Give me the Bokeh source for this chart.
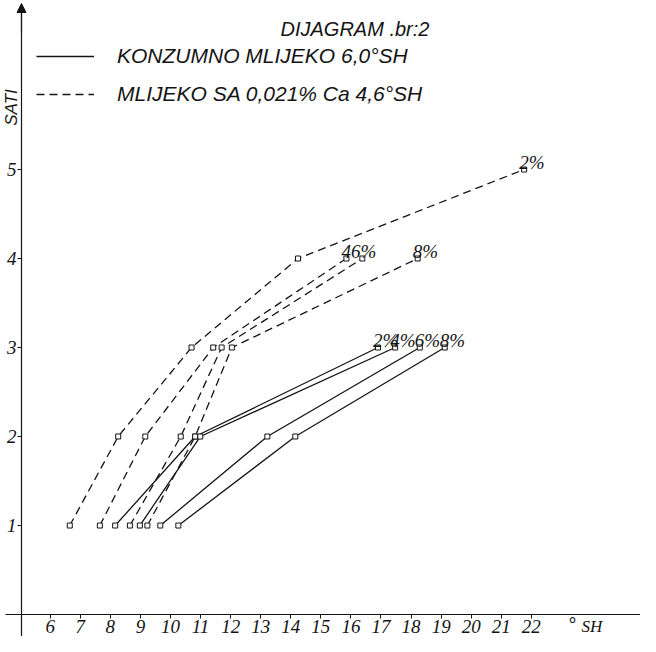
import math
from bokeh.plotting import figure
from bokeh.models import (ColumnDataSource, FixedTicker, Label, Legend, LegendItem,
                          LinearAxis, Arrow, NormalHead, Range1d)
from bokeh.embed import file_html
from bokeh.resources import INLINE
from bokeh.core.properties import value

# ---------------- data ----------------
hours = [1, 2, 3, 4, 5]
# milk with 0.021 % Ca, 4.6 °SH (dashed) : °SH reached after 1..n hours
ca_2 = [6.65, 8.26, 10.70, 14.24, 21.76]
ca_4 = [7.65, 9.16, 11.42, 15.85]
ca_6 = [8.65, 10.34, 11.70, 16.38]
ca_8 = [9.23, 10.82, 12.04, 18.22]
# consumer milk 6.0 °SH (solid)
kon_2 = [8.16, 10.82, 16.90]
kon_4 = [8.98, 10.99, 17.47]
kon_6 = [9.66, 13.22, 18.29]
kon_8 = [10.26, 14.15, 19.12]
ca_end_labels = ["2%", "46%", "", "8%"]
kon_end_labels = ["2%", "4%", "6%", "8%"]
x_ticks = list(range(6, 23))
y_ticks = [1, 2, 3, 4, 5]
title_text = "DIJAGRAM .br:2"
legend_kon = "KONZUMNO MLIJEKO 6,0°SH"
legend_ca = "MLIJEKO SA 0,021% Ca 4,6°SH"
y_title = "SATI"
x_unit_deg = "°"
x_unit = "SH"

# ---------------- styling ----------------
INK = "#141414"
NARROW = "Liberation Sans Narrow"
SANS = "Liberation Sans"
W, H = 640, 636
X0, X1 = 4.346, 25.63
Y0, Y1 = -0.247, 6.899


def fx(X):
    return X0 + (X - 8) * (X1 - X0) / W


def fy(Y):
    return Y1 - (Y - 8) * (Y1 - Y0) / H


p = figure(width=W, height=H, output_backend="svg", toolbar_location=None,
           x_range=Range1d(X0, X1), y_range=Range1d(Y0, Y1),
           x_axis_type=None, y_axis_type=None,
           min_border=0, min_border_left=0, min_border_right=0,
           min_border_top=0, min_border_bottom=0)
p.outline_line_color = None
p.background_fill_color = "white"
p.border_fill_color = "white"

# ---------------- axes ----------------
xaxis = LinearAxis(fixed_location=0, ticker=FixedTicker(ticks=x_ticks),
                   bounds=(fx(13), X1))
yaxis = LinearAxis(fixed_location=fx(29), ticker=FixedTicker(ticks=y_ticks),
                   bounds=(fy(645), fy(14)))
for ax in (xaxis, yaxis):
    ax.axis_line_color = INK
    ax.axis_line_width = 1.2
    ax.major_tick_line_color = INK
    ax.major_tick_line_width = 1
    ax.major_tick_in = 0
    ax.major_tick_out = 4
    ax.minor_tick_line_color = None
    ax.major_label_text_font = NARROW
    ax.major_label_text_font_style = "italic"
    ax.major_label_text_color = INK
    ax.major_label_text_font_size = "19px"
xaxis.major_label_standoff = 1
yaxis.major_label_standoff = 1
p.add_layout(xaxis, "below")
p.add_layout(yaxis, "left")

p.add_layout(Arrow(end=NormalHead(size=9, fill_color=INK, line_color=INK),
                   x_start=fx(29), y_start=fy(40), x_end=fx(29), y_end=fy(11),
                   line_color=INK, line_width=1.2))

# ---------------- series ----------------
ca_series = [ca_2, ca_4, ca_6, ca_8]
kon_series = [kon_2, kon_4, kon_6, kon_8]
ca_r, kon_r = [], []
for xs in ca_series:
    hrs = hours[:len(xs)]
    ca_r.append(p.line(xs, hrs, line_color=INK, line_width=1.3, line_dash="8 5"))
for xs in kon_series:
    hrs = hours[:len(xs)]
    kon_r.append(p.line(xs, hrs, line_color=INK, line_width=1.3))
for xs in ca_series + kon_series:
    hrs = hours[:len(xs)]
    p.scatter(xs, hrs, marker="square", size=5, fill_color="white",
              line_color=INK, line_width=1)

ends = ca_series + kon_series
end_src = ColumnDataSource(dict(
    x=[s[-1] for s in ends],
    y=[hours[len(s) - 1] for s in ends],
    t=ca_end_labels + kon_end_labels))
p.text(x="x", y="y", text="t", source=end_src, text_font=value(NARROW),
       text_font_style="italic", text_font_size="19px", text_color=INK,
       text_align="left", text_baseline="alphabetic", x_offset=-5, y_offset=-7)

# ---------------- legend ----------------
legend = Legend(items=[LegendItem(label=legend_kon, renderers=[kon_r[0]]),
                       LegendItem(label=legend_ca, renderers=[ca_r[0]])],
                location=(36, 527), orientation="vertical",
                glyph_width=58, glyph_height=30, label_height=30,
                spacing=8, padding=0, margin=0, label_standoff=23,
                border_line_color=None, background_fill_alpha=0,
                label_text_font=SANS, label_text_font_style="italic",
                label_text_font_size="21px", label_text_color=INK)
p.add_layout(legend, "center")

# ---------------- texts ----------------
p.add_layout(Label(x=fx(288), y=fy(36), text=title_text, text_font=SANS,
                   text_font_style="italic", text_font_size="20px",
                   text_color=INK, text_baseline="middle"))
p.add_layout(Label(x=fx(19), y=fy(115), text=y_title, angle=math.pi / 2,
                   text_font=SANS, text_font_style="italic", text_font_size="17px",
                   text_color=INK, text_align="center", text_baseline="middle"))
p.add_layout(Label(x=fx(576), y=fy(632), text=x_unit_deg, text_font=SANS,
                   text_font_size="20px", text_color=INK,
                   text_align="left", text_baseline="middle"))
p.add_layout(Label(x=fx(589), y=fy(643), text=x_unit, text_font=NARROW,
                   text_font_style="italic", text_font_size="17px",
                   text_color=INK, text_align="left", text_baseline="bottom"))

open("out.html", "w").write(file_html(p, INLINE))
